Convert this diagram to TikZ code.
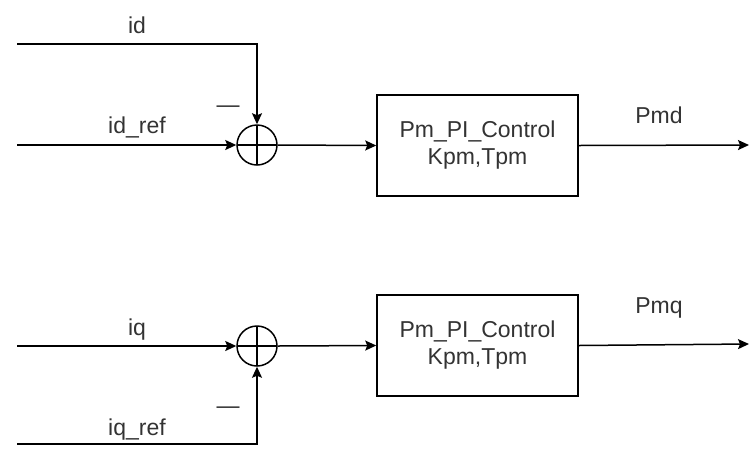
\documentclass[tikz,border=0pt]{standalone}
\usepackage{fontspec}
\setmainfont{Liberation Sans}
\usetikzlibrary{arrows.meta}
\definecolor{txt}{HTML}{333333}
\begin{document}
\begin{tikzpicture}[x=1pt,y=-1pt,
  lbl/.style={font=\fontsize{23}{27}\selectfont, text=txt, inner sep=0pt, anchor=base},
  wire/.style={line width=1.5pt, -{Stealth[inset=2pt,length=11pt,width=10pt]}},
  sumnode/.style={circle, draw, line width=1.5pt, minimum size=40pt, inner sep=0pt,
    path picture={\draw[line width=1.5pt] (path picture bounding box.north) -- (path picture bounding box.south)
      (path picture bounding box.west) -- (path picture bounding box.east);}},
  blk/.style={draw, line width=1.5pt, minimum width=201pt, minimum height=101pt, align=center,
    font=\fontsize{23}{27}\selectfont, text=txt, inner sep=0pt}]
\useasboundingbox (0,0) rectangle (749,448);
% top row
\coordinate (idin) at (17,44);
\coordinate (idrefin) at (17,145);
\node[sumnode] (s1) at (257,145) {};
\node[blk] (b1) at (477.5,145.5) {Pm\_PI\_Control\\Kpm,Tpm};
\coordinate (o1) at (749,145);
\draw[wire] (idin) -| (s1.north);
\draw[wire] (idrefin) -- (s1.west);
\draw[wire] (s1.east) -- (b1.west);
\draw[wire] (b1.east) -- (o1);
\node[lbl] (lid) at (137,33) {id};
\node[lbl] (lidref) at (137,133) {id\_ref};
\node[lbl] (m1) at (228,112) {—};
\node[lbl] (lpmd) at (659,123) {Pmd};
% bottom row
\coordinate (iqin) at (17,346);
\coordinate (iqrefin) at (17,444);
\node[sumnode] (s2) at (257,346) {};
\node[blk] (b2) at (477.5,345.5) {Pm\_PI\_Control\\Kpm,Tpm};
\coordinate (o2) at (749,344);
\draw[wire] (iqin) -- (s2.west);
\draw[wire] (iqrefin) -| (s2.south);
\draw[wire] (s2.east) -- (b2.west);
\draw[wire] (b2.east) -- (o2);
\node[lbl] (liq) at (137,335) {iq};
\node[lbl] (liqref) at (137,435) {iq\_ref};
\node[lbl] (m2) at (228,413) {—};
\node[lbl] (lpmq) at (659,313) {Pmq};
\end{tikzpicture}
\end{document}
